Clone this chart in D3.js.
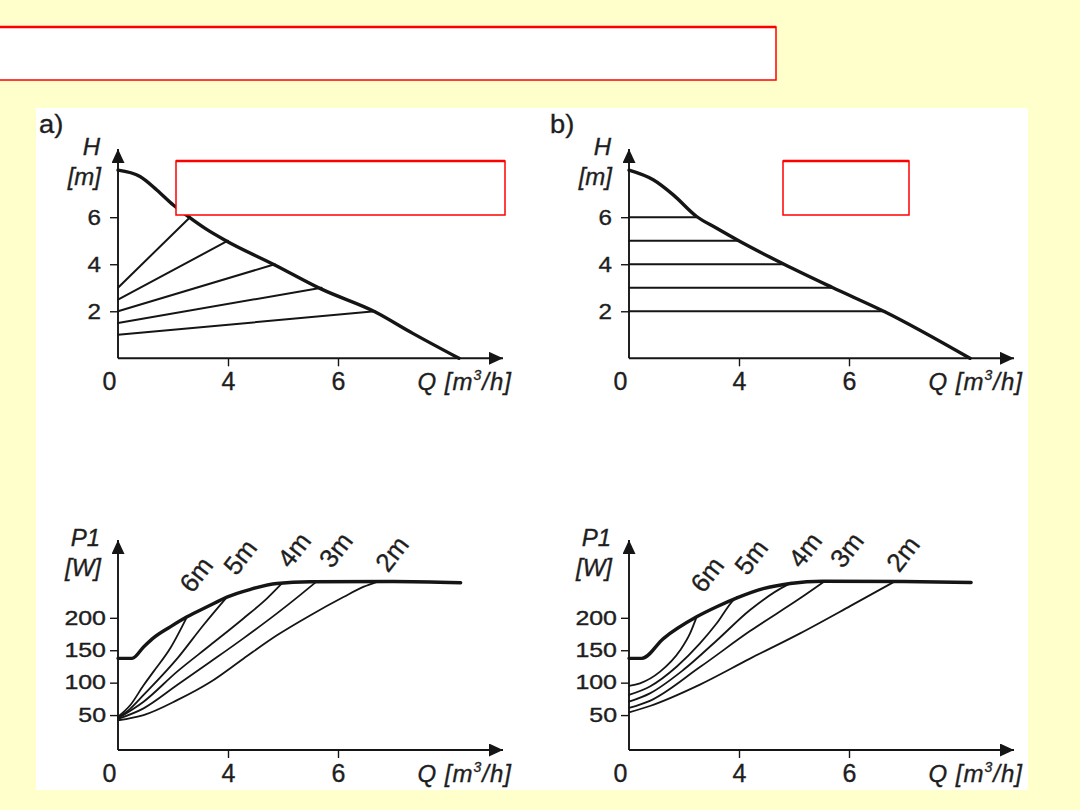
<!DOCTYPE html>
<html><head><meta charset="utf-8">
<script src="https://cdn.jsdelivr.net/npm/d3@7"></script>
<style>
html,body{margin:0;padding:0;background:#FFFFCC;}
svg{display:block;font-family:"Liberation Sans",Arial,Helvetica,sans-serif;}
</style></head><body>
<svg id="c" width="1080" height="810"></svg>
<script>
// ---------- data ----------
const qTicks = [0, 4, 6];
const hTicks = [2, 4, 6];
const pTicks = [50, 100, 150, 200];
const setpoints = ["6m", "5m", "4m", "3m", "2m"];
const panelLabels = ["a)", "b)"];

// (a) pump H-Q curve at max speed
const pumpA_Q = [0, 0.8, 1.41, 2.01, 2.61, 3.21, 3.94, 4.85, 5.70, 6.67, 7.36, 8.2];
const pumpA_H = [8.0, 7.73, 7.16, 6.52, 5.98, 5.49, 4.99, 3.97, 2.94, 1.98, 1.06, 0];
// (a) proportional-pressure lines: head at Q=0 and end point on the curve
const propStartH = [3.0, 2.5, 2.0, 1.5, 1.0];
const propEndQ = [2.62, 4.0, 4.85, 5.70, 6.67];
const propEndH = [6.0, 5.0, 4.0, 3.0, 2.0];

// (b) pump H-Q curve
const pumpB_Q = [0, 0.88, 1.61, 2.46, 3.19, 3.99, 4.81, 5.69, 6.65, 8.2];
const pumpB_H = [8.0, 7.59, 6.95, 6.03, 5.53, 5.0, 4.01, 3.02, 1.98, 0];
// (b) constant-pressure lines
const constH = [6, 5, 4, 3, 2];
const constEndQ = [2.46, 3.95, 4.81, 5.69, 6.65];

// (a) power curves P1 [W] vs Q
const powA_maxQ = [0, 0.51, 0.93, 1.29, 1.90, 2.51, 3.24, 3.96, 4.41, 4.89, 5.50, 7.0, 8.23];
const powA_maxP = [137.5, 137.5, 155, 169, 186, 201.5, 217, 232, 244, 253, 255.5, 256, 254];
const powA_6Q = [0, 0.45, 0.93, 1.29, 1.9, 2.51];
const powA_6P = [47.5, 65.5, 96, 117, 153, 201.5];
const powA_5Q = [0, 0.45, 0.93, 2.15, 3.11, 3.96];
const powA_5P = [46, 60, 81, 137, 189, 232];
const powA_4Q = [0, 0.93, 2.15, 3.36, 4.28, 4.71, 4.98];
const powA_4P = [45, 70.6, 117, 158, 199, 230, 253];
const powA_3Q = [0, 0.93, 2.15, 3.36, 4.28, 4.89, 5.31, 5.59];
const powA_3P = [44, 60.4, 96.3, 132.2, 168.3, 206.8, 235, 254.5];
const powA_2Q = [0, 0.93, 2.15, 3.36, 4.28, 4.89, 5.50, 6.1, 6.47, 6.71];
const powA_2P = [42, 50, 73, 101, 137, 173, 204, 232, 248, 255.5];

// (b) power curves
const powB_maxQ = [0, 0.47, 1.25, 2.46, 3.19, 3.97, 4.44, 4.93, 5.53, 7.0, 8.22];
const powB_maxP = [137.5, 137.5, 168, 201.5, 217, 231.5, 245, 253, 256.5, 256, 254.5];
const powB_6Q = [0, 0.4, 1.13, 1.86, 2.22, 2.46];
const powB_6P = [95, 99, 117, 150, 176, 201.5];
const powB_5Q = [0, 0.76, 1.73, 2.58, 3.19, 3.79, 3.92];
const powB_5P = [81, 94, 124.5, 160.5, 191.5, 227, 232];
const powB_4Q = [0, 0.76, 1.97, 3.19, 4.2, 4.87, 4.96];
const powB_4P = [70.6, 83.5, 119.4, 165, 212, 250.4, 254];
const powB_3Q = [0, 0.76, 2.58, 4.2, 5.11, 5.56];
const powB_3P = [61, 72, 124, 179.5, 230, 256.5];
const powB_2Q = [0, 0.76, 2.58, 4.2, 5.11, 6.02, 6.84];
const powB_2P = [54, 64, 97, 137, 176, 218, 256.5];

// label anchors for set-point annotations (data coords)
const labelQ = [2.84, 4.22, 5.2, 5.96, 6.98];
const labelP = [267, 294, 305, 305, 299];

// ---------- drawing ----------
const svg = d3.select("#c");
const INK = "#151515";
const TXT = "#1e1e1e";
const zip = (a, b) => a.map((v, i) => [v, b[i]]);

const defs = svg.append("defs");
defs.append("marker").attr("id", "arr")
  .attr("markerUnits", "userSpaceOnUse")
  .attr("markerWidth", 15).attr("markerHeight", 14)
  .attr("refX", 14).attr("refY", 6.5).attr("orient", "auto")
  .append("path").attr("d", "M0,0 L14,6.5 L0,13 Z").attr("fill", INK);

svg.append("rect").attr("width", 1080).attr("height", 810).attr("fill", "#FFFFCC");
svg.append("rect").attr("x", 36).attr("y", 108).attr("width", 992).attr("height", 682).attr("fill", "#fff");

function redBox(x, y, w, h) {
  svg.append("rect").attr("x", x).attr("y", y).attr("width", w).attr("height", h)
    .attr("fill", "#fff").attr("stroke", "#ff0000").attr("stroke-width", 1.5);
  svg.append("line").attr("x1", x).attr("x2", x + w).attr("y1", y).attr("y2", y)
    .attr("stroke", "#ff0000").attr("stroke-width", 2.5);
}

function makeX(ox) {
  return d3.scaleLinear().domain([0, 4, 6, 9]).range([ox, ox + 110, ox + 220, ox + 385]);
}

function styleText(sel) {
  return sel.attr("fill", TXT).attr("stroke", TXT).attr("stroke-width", 0.35);
}

function drawAxes(g, x, y, yTicks, yTop, opts) {
  const ox = x(0), oy = y(0) + (opts.axisDrop || 0);
  const gx = g.append("g").attr("transform", `translate(0,${oy})`)
    .call(d3.axisBottom(x).tickValues(qTicks).tickSize(8).tickPadding(6).tickFormat(d3.format("d")));
  gx.select(".domain").remove();
  gx.selectAll(".tick line").attr("stroke", INK).attr("stroke-width", 1.4)
    .filter(d => d === 0).remove();
  styleText(gx.selectAll(".tick text")).attr("font-size", 25)
    .attr("font-family", "Liberation Sans, Arial, sans-serif")
    .attr("dx", d => d === 0 ? -9 : 0);
  const gy = g.append("g").attr("transform", `translate(${ox},0)`)
    .call(d3.axisLeft(y).tickValues(yTicks).tickSize(8).tickPadding(4));
  gy.select(".domain").remove();
  gy.selectAll(".tick line").attr("stroke", INK).attr("stroke-width", 1.4);
  styleText(gy.selectAll(".tick text")).attr("font-size", opts.yFont)
    .attr("font-family", "Liberation Sans, Arial, sans-serif")
    .attr("x", -opts.yGap / opts.yStretch)
    .attr("transform", `scale(${opts.yStretch},1)`);
  g.append("line").attr("x1", ox).attr("y1", oy).attr("x2", x(9)).attr("y2", oy)
    .attr("stroke", INK).attr("stroke-width", 1.9).attr("marker-end", "url(#arr)");
  g.append("line").attr("x1", ox).attr("y1", oy).attr("x2", ox).attr("y2", y(yTop))
    .attr("stroke", INK).attr("stroke-width", 1.9).attr("marker-end", "url(#arr)");
  const tipY = y(yTop);
  styleText(g.append("text")).attr("x", ox - 18).attr("y", tipY + 6).attr("text-anchor", "end")
    .attr("font-style", "italic").attr("font-size", 24).text(opts.yName);
  styleText(g.append("text")).attr("x", ox - 17).attr("y", tipY + 36).attr("text-anchor", "end")
    .attr("font-style", "italic").attr("font-size", 24).text(opts.yUnit);
  const qt = styleText(g.append("text")).attr("x", ox + 394).attr("y", oy + 31.5).attr("text-anchor", "end")
    .attr("font-style", "italic").attr("font-size", 24).attr("letter-spacing", 1);
  qt.append("tspan").text("Q [m");
  qt.append("tspan").attr("font-size", 14).attr("dy", -10).text("3");
  qt.append("tspan").attr("dy", 10).text("/h]");
}

function curve(g, x, y, qs, vs, w, smooth) {
  const line = d3.line().x(d => x(d[0])).y(d => y(d[1]))
    .curve(smooth ? d3.curveMonotoneX : d3.curveLinear);
  g.append("path").attr("d", line(zip(qs, vs))).attr("fill", "none")
    .attr("stroke", INK).attr("stroke-width", w)
    .attr("stroke-linejoin", "round").attr("stroke-linecap", "round");
}

const panels = [{ ox: 118, label: panelLabels[0] }, { ox: 629, label: panelLabels[1] }];

panels.forEach((p, i) => {
  const x = makeX(p.ox);
  const yH = d3.scaleLinear().domain([0, 8.9]).range([358.3, 149]);
  const yP = d3.scaleLinear().domain([0, 320]).range([747.5, 540]);
  const gTop = svg.append("g");
  const gBot = svg.append("g");

  const lx = p.ox - 79;
  styleText(svg.append("text")).attr("x", lx).attr("y", 133)
    .attr("font-size", 26)
    .attr("transform", `translate(${lx},0) scale(1.05,1) translate(${-lx},0)`)
    .text(p.label);

  drawAxes(gTop, x, yH, hTicks, 8.9,
    { yFont: 22, yGap: 17, yStretch: 1.1, yName: "H", yUnit: "[m]" });
  drawAxes(gBot, x, yP, pTicks, 320,
    { yFont: 19.5, yGap: 12, yStretch: 1.28, yName: "P1", yUnit: "[W]", axisDrop: 2.5 });

  if (i === 0) {
    propStartH.forEach((h0, k) => curve(gTop, x, yH, [0, propEndQ[k]], [h0, propEndH[k]], 2, false));
    curve(gTop, x, yH, pumpA_Q, pumpA_H, 3.4, true);
    [[powA_6Q, powA_6P], [powA_5Q, powA_5P], [powA_4Q, powA_4P], [powA_3Q, powA_3P], [powA_2Q, powA_2P]]
      .forEach(s => curve(gBot, x, yP, s[0], s[1], 1.8, true));
    curve(gBot, x, yP, powA_maxQ, powA_maxP, 3.4, true);
  } else {
    constH.forEach((h, k) => curve(gTop, x, yH, [0, constEndQ[k]], [h, h], 2, false));
    curve(gTop, x, yH, pumpB_Q, pumpB_H, 3.4, true);
    [[powB_6Q, powB_6P], [powB_5Q, powB_5P], [powB_4Q, powB_4P], [powB_3Q, powB_3P], [powB_2Q, powB_2P]]
      .forEach(s => curve(gBot, x, yP, s[0], s[1], 1.8, true));
    curve(gBot, x, yP, powB_maxQ, powB_maxP, 3.4, true);
  }

  setpoints.forEach((t, k) => {
    const cx = x(labelQ[k]), cy = yP(labelP[k]);
    styleText(gBot.append("text")).attr("transform", `translate(${cx},${cy}) rotate(-52)`)
      .attr("text-anchor", "middle").attr("dy", "0.35em")
      .attr("font-size", 26).text(t);
  });
});

redBox(-2, 27, 778, 53);
redBox(176, 161, 329, 54);
redBox(783, 161, 126, 54);
</script>
</body></html>
